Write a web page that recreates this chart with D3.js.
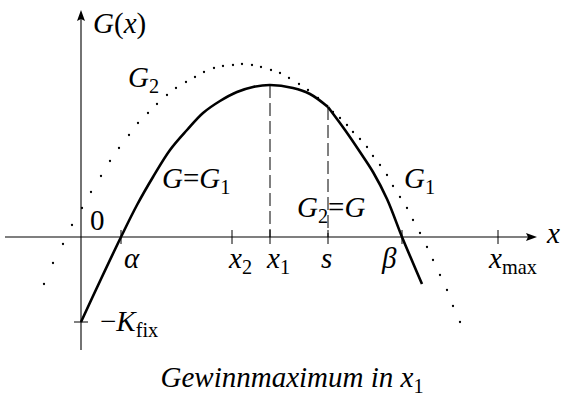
<!DOCTYPE html>
<html><head><meta charset="utf-8">
<script src="https://cdn.jsdelivr.net/npm/d3@7"></script>
<style>
body{margin:0;background:#fff}
svg{display:block}
</style>
</head><body>
<svg id="c" width="563" height="396"></svg>
<script>
// ---------- data (arbitrary units) ----------
const solidG1 = [[0,-8.5],[2.0,-4.2],[4.0,0],[5.6,3.2],[7.2,6.0],[8.9,8.7],[10.6,10.7],[12.2,12.4],[13.9,13.6],[15.6,14.5],[17.2,15.0],[18.9,15.2],[21.2,14.9],[22.9,14.3],[24.7,13.0]];
const solidG2 = [[24.7,13.0],[26.4,10.7],[27.9,8.5],[29.2,6.5],[30.6,3.8],[32.1,0],[33.2,-2.6],[34.1,-4.7]];
const dottedG2 = [[-3.7,-4.7],[-2.8,-2.6],[-1.8,-0.7],[-0.9,1.2],[0.1,2.9],[1.0,4.5],[2.0,6.1],[2.9,7.6],[3.8,8.9],[4.8,10.2],[5.7,11.4],[6.7,12.4],[7.6,13.3],[8.6,14.2],[9.5,14.9],[10.5,15.5],[11.4,16.0],[12.3,16.5],[13.3,16.9],[14.2,17.1],[15.2,17.2],[16.1,17.3],[17.1,17.2],[18.0,17.0],[19.0,16.7],[19.9,16.4],[20.8,15.9],[21.8,15.3],[22.7,14.7],[23.7,13.9],[24.6,13.1]];
const dottedG1 = [[25.2,12.5],[25.9,11.9],[26.6,11.2],[27.2,10.5],[27.9,9.8],[28.6,9.0],[29.2,8.1],[29.9,7.2],[30.6,6.2],[31.2,5.1],[31.9,4.0],[32.6,2.9],[33.2,1.7],[33.9,0.4],[34.6,-1.0],[35.2,-2.3],[35.9,-3.8],[36.6,-5.3],[37.2,-6.9],[37.9,-8.5]];
const tickValues = [4.0, 15.1, 18.9, 24.7, 32.1, 41.7];
const tickLabels = [["α"],["x","2"],["x","1"],["s"],["β"],["x","max"]];
const kFix = -8.5;
const maxX = 18.9;      // x1 (maximum of G)
const maxG = 15.2;
const sX = 24.7;        // s
const sG = 13.0;
const xDomain = [-7.6, 45.6];
const yDomain = [-11.3, 22.7];

// ---------- drawing ----------
const FONT = "'Liberation Serif', 'DejaVu Serif', 'Noto Serif', 'Times New Roman', Times, serif";
const svg = d3.select("#c");
const x = d3.scaleLinear().domain(xDomain).range([5, 537]);
const y = d3.scaleLinear().domain(yDomain).range([350, 10]);
const X0 = x(0), Y0 = y(0);

// axes
svg.append("line").attr("x1", x(xDomain[0])).attr("x2", x(xDomain[1]) - 6)
  .attr("y1", Y0).attr("y2", Y0).attr("stroke", "#000").attr("stroke-width", 1.1);
svg.append("line").attr("x1", X0).attr("x2", X0)
  .attr("y1", y(yDomain[0])).attr("y2", y(yDomain[1]) + 6).attr("stroke", "#000").attr("stroke-width", 1.1);
// arrowheads
const xe = x(xDomain[1]), ye = y(yDomain[1]);
svg.append("path").attr("d", `M${xe},${Y0} L${xe-11},${Y0-4} L${xe-9},${Y0} L${xe-11},${Y0+4} Z`).attr("fill", "#000");
svg.append("path").attr("d", `M${X0},${ye} L${X0-4},${ye+11} L${X0},${ye+9} L${X0+4},${ye+11} Z`).attr("fill", "#000");

// x ticks
svg.selectAll(".xt").data(tickValues).enter().append("line")
  .attr("x1", d => x(d)).attr("x2", d => x(d))
  .attr("y1", Y0 - 7).attr("y2", Y0 + 7).attr("stroke", "#000").attr("stroke-width", 1);
// y tick at -Kfix
svg.append("line").attr("x1", X0 - 7).attr("x2", X0 + 7)
  .attr("y1", y(kFix)).attr("y2", y(kFix)).attr("stroke", "#000").attr("stroke-width", 1);

// dashed guides
[[maxX, maxG], [sX, sG]].forEach(([a, b]) => {
  svg.append("line").attr("x1", x(a)).attr("x2", x(a))
    .attr("y1", y(b)).attr("y2", Y0)
    .attr("stroke", "#000").attr("stroke-width", 1).attr("stroke-dasharray", "13,5");
});

// curves
const line = d3.line().x(d => x(d[0])).y(d => y(d[1])).curve(d3.curveCatmullRom.alpha(0.5));
[solidG1, solidG2].forEach(pts => {
  svg.append("path").attr("d", line(pts)).attr("fill", "none")
    .attr("stroke", "#000").attr("stroke-width", 2.6).attr("stroke-linejoin", "miter");
});
svg.selectAll(".dot").data(dottedG2.concat(dottedG1)).enter().append("circle")
  .attr("cx", d => x(d[0])).attr("cy", d => y(d[1])).attr("r", 1.15).attr("fill", "#000");

// text helper: parts = [text, italic, sub]
function label(px, py, parts, size, anchor) {
  const t = svg.append("text").attr("x", px).attr("y", py)
    .attr("font-family", FONT).attr("fill", "#000")
    .attr("font-size", size).attr("text-anchor", anchor || "start");
  let shifted = false;
  parts.forEach(p => {
    const s = t.append("tspan").text(p[0]).attr("font-style", p[1] ? "italic" : "normal")
      .attr("font-family", FONT);
    if (p[2]) { s.attr("font-size", size * 0.7).attr("dy", size * 0.22); shifted = true; }
    else if (shifted) { s.attr("dy", -size * 0.22); shifted = false; }
  });
  return t;
}
const FS = 29;
// tick labels
const tickDx = [3, -3, -3, -7, -20, -9];
tickLabels.forEach((lab, i) => {
  const parts = lab.length === 1
    ? [[lab[0], true, false]]
    : [[lab[0], true, false], [lab[1], false, true]];
  label(x(tickValues[i]) + tickDx[i], Y0 + 31, parts, FS);
});
label(X0 + 9, Y0 - 7, [["0", false, false]], FS);
label(X0 + 19, y(kFix) + 9, [["−", false, false], ["K", true, false], ["fix", false, true]], FS);
label(xe + 10, Y0 + 6, [["x", true, false]], FS);
label(X0 + 12, ye + 23, [["G", true, false], ["(", false, false], ["x", true, false], [")", false, false]], FS);
label(128, 87, [["G", true, false], ["2", false, true]], FS);
label(162, 188, [["G", true, false], ["=", false, false], ["G", true, false], ["1", false, true]], FS);
label(404, 188, [["G", true, false], ["1", false, true]], FS);
label(297, 217, [["G", true, false], ["2", false, true], ["=", false, false], ["G", true, false]], FS);
label(292, 387, [["Gewinnmaximum in x", true, false], ["1", false, true]], FS, "middle");
</script>
</body></html>
